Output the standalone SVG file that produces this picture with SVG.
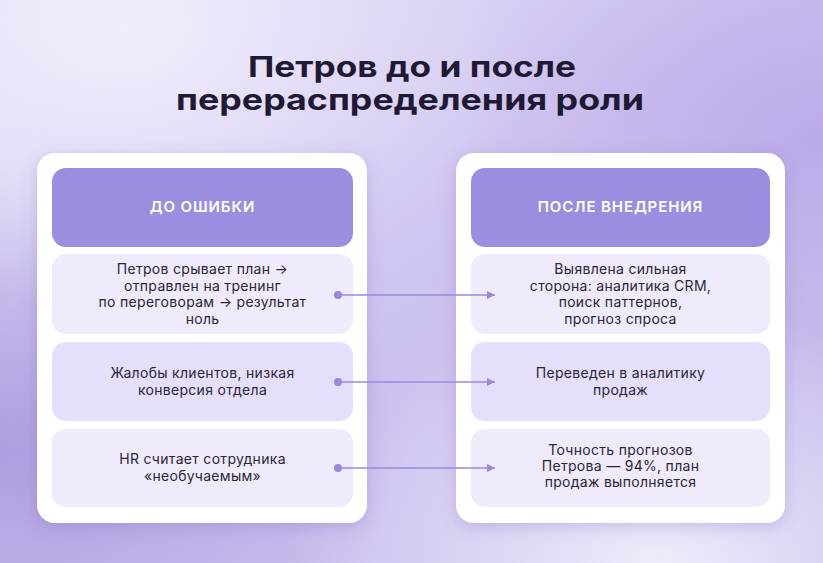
<svg xmlns="http://www.w3.org/2000/svg" width="823" height="563" viewBox="0 0 823 563">
  <defs>
    <linearGradient id="bg" x1="0" y1="0" x2="1" y2="1">
      <stop offset="0" stop-color="#e4ddf8"/>
      <stop offset="0.5" stop-color="#cfc3f0"/>
      <stop offset="1" stop-color="#c6b8ea"/>
    </linearGradient>
    <radialGradient id="glowTop" cx="0.15" cy="0.05" r="0.5">
      <stop offset="0" stop-color="#f2effc" stop-opacity="0.95"/>
      <stop offset="1" stop-color="#ebe6fa" stop-opacity="0"/>
    </radialGradient>
    <radialGradient id="darkLeft" cx="0.0" cy="0.8" r="0.5">
      <stop offset="0" stop-color="#a896dc" stop-opacity="0.85"/>
      <stop offset="1" stop-color="#a896dc" stop-opacity="0"/>
    </radialGradient>
    <radialGradient id="darkRight" cx="1.0" cy="0.25" r="0.45">
      <stop offset="0" stop-color="#b5a3e6" stop-opacity="0.75"/>
      <stop offset="1" stop-color="#b7a5e6" stop-opacity="0"/>
    </radialGradient>
    <radialGradient id="lightBR" cx="0.8" cy="1.0" r="0.45">
      <stop offset="0" stop-color="#f1eefc" stop-opacity="0.95"/>
      <stop offset="1" stop-color="#efebfb" stop-opacity="0"/>
    </radialGradient>
    <filter id="shadow" x="-20%" y="-20%" width="140%" height="140%">
      <feDropShadow dx="0" dy="4" stdDeviation="8" flood-color="#6a55b0" flood-opacity="0.25"/>
    </filter>
    <marker id="arrow" viewBox="0 0 8 8" refX="8" refY="4" markerWidth="8" markerHeight="8" markerUnits="userSpaceOnUse" orient="auto">
      <path d="M0,0 L8,4 L0,8 Z" fill="#9a88e0"/>
    </marker>
    <marker id="dot" viewBox="0 0 8 8" refX="4" refY="4" markerWidth="8" markerHeight="8" markerUnits="userSpaceOnUse">
      <circle cx="4" cy="4" r="4" fill="#9a88e0"/>
    </marker>
  </defs>
  <style>
    .title { font-family: Inter, "Noto Sans", sans-serif; font-weight: 700; font-size: 29px; fill: #1f1a33; }
    .panel { fill: #ffffff; filter: url(#shadow); }
    .header { fill: #9b8ddf; }
    .htext { font-family: Inter, "Noto Sans", sans-serif; font-weight: 600; font-size: 15px; letter-spacing: 0.9px; fill: #ffffff; text-anchor: middle; }
    .row-a { fill: #efebfc; }
    .row-b { fill: #e6dffb; }
    .txt { font-family: Inter, "Noto Sans", sans-serif; font-weight: 400; font-size: 14px; letter-spacing: 0.3px; fill: #2a2538; text-anchor: middle; }
    .conn { stroke: #9a88e0; stroke-width: 1.5; fill: none; marker-start: url(#dot); marker-end: url(#arrow); }
  </style>

  <rect x="0" y="0" width="823" height="563" fill="url(#bg)"/>
  <rect x="0" y="0" width="823" height="563" fill="url(#darkLeft)"/>
  <rect x="0" y="0" width="823" height="563" fill="url(#darkRight)"/>
  <rect x="0" y="0" width="823" height="563" fill="url(#glowTop)"/>
  <rect x="0" y="0" width="823" height="563" fill="url(#lightBR)"/>

  <g id="title">
    <text class="title" x="248" y="77" textLength="328" lengthAdjust="spacingAndGlyphs">Петров до и после</text>
    <text class="title" x="176" y="110" textLength="468" lengthAdjust="spacingAndGlyphs">перераспределения роли</text>
  </g>

  <g id="panel-before">
    <rect class="panel" x="37" y="153" width="330" height="370" rx="18"/>
  </g>
  <g id="panel-after">
    <rect class="panel" x="456" y="153" width="329" height="370" rx="18"/>
  </g>

  <g id="header-before">
    <rect class="header" x="52" y="168" width="301" height="79" rx="14"/>
    <text class="htext" x="202.5" y="212">ДО ОШИБКИ</text>
  </g>
  <g id="header-after">
    <rect class="header" x="471" y="168" width="299" height="79" rx="14"/>
    <text class="htext" x="620.5" y="212">ПОСЛЕ ВНЕДРЕНИЯ</text>
  </g>

  <g id="before-1">
    <rect class="row-a" x="52" y="254" width="301" height="80" rx="14"/>
    <text class="txt" x="202.5" y="274">Петров срывает план →</text>
    <text class="txt" x="202.5" y="290.5">отправлен на тренинг</text>
    <text class="txt" x="202.5" y="307">по переговорам → результат</text>
    <text class="txt" x="202.5" y="323.5">ноль</text>
  </g>
  <g id="before-2">
    <rect class="row-b" x="52" y="342" width="301" height="79" rx="14"/>
    <text class="txt" x="202.5" y="378">Жалобы клиентов, низкая</text>
    <text class="txt" x="202.5" y="394.5">конверсия отдела</text>
  </g>
  <g id="before-3">
    <rect class="row-a" x="52" y="429" width="301" height="78" rx="14"/>
    <text class="txt" x="202.5" y="464">HR считает сотрудника</text>
    <text class="txt" x="202.5" y="480.5">«необучаемым»</text>
  </g>

  <g id="after-1">
    <rect class="row-a" x="471" y="254" width="299" height="80" rx="14"/>
    <text class="txt" x="620.5" y="274">Выявлена сильная</text>
    <text class="txt" x="620.5" y="290.5">сторона: аналитика CRM,</text>
    <text class="txt" x="620.5" y="307">поиск паттернов,</text>
    <text class="txt" x="620.5" y="323.5">прогноз спроса</text>
  </g>
  <g id="after-2">
    <rect class="row-b" x="471" y="342" width="299" height="79" rx="14"/>
    <text class="txt" x="620.5" y="378">Переведен в аналитику</text>
    <text class="txt" x="620.5" y="394.5">продаж</text>
  </g>
  <g id="after-3">
    <rect class="row-a" x="471" y="429" width="299" height="78" rx="14"/>
    <text class="txt" x="620.5" y="455">Точность прогнозов</text>
    <text class="txt" x="620.5" y="471">Петрова — 94%, план</text>
    <text class="txt" x="620.5" y="487">продаж выполняется</text>
  </g>

  <g id="connectors">
    <line class="conn" x1="338" y1="295" x2="495" y2="295"/>
    <line class="conn" x1="338" y1="382" x2="495" y2="382"/>
    <line class="conn" x1="338" y1="468" x2="495" y2="468"/>
  </g>
</svg>
